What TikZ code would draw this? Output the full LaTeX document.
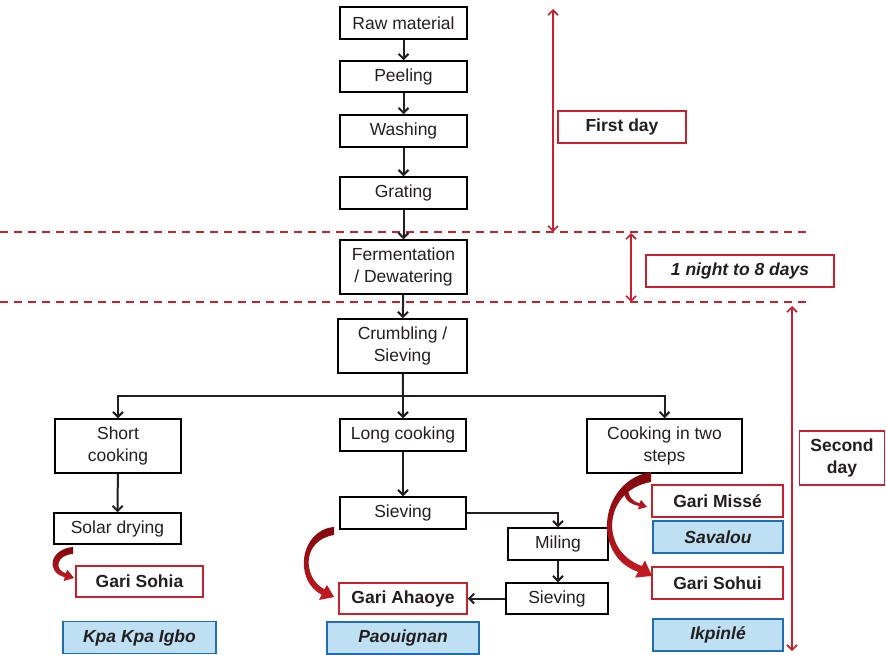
\documentclass[tikz,border=0pt]{standalone}
\usepackage{fontspec}
\setmainfont{Liberation Sans}
\usetikzlibrary{arrows.meta}

\definecolor{gariRed}{RGB}{200,32,44}
\definecolor{curveRed}{RGB}{196,26,34}
\definecolor{curveDark}{RGB}{128,8,14}
\definecolor{placeFill}{RGB}{190,224,242}
\definecolor{placeLine}{RGB}{30,110,180}
\definecolor{inkGray}{RGB}{35,31,32}
\newcommand\boxfont{\fontsize{17.5}{22}\selectfont}

\tikzset{
  stepbox/.style={draw=black, line width=1.5pt, text=inkGray, align=center,
    inner sep=0pt, minimum width=127pt, minimum height=32pt, font=\boxfont},
  garibox/.style={stepbox, draw=gariRed, font=\boxfont\bfseries},
  placebox/.style={stepbox, draw=placeLine, fill=placeFill, font=\boxfont\bfseries\itshape},
  daybox/.style={stepbox, draw=gariRed, font=\boxfont\bfseries},
  flow/.style={draw=inkGray, line width=2pt, -{Straight Barb[length=5pt,width=10pt]}},
  span/.style={draw=gariRed, line width=1.6pt,
    {Straight Barb[length=5pt,width=10pt]}-{Straight Barb[length=5pt,width=10pt]}},
  daycut/.style={draw=gariRed, line width=1.6pt, dash pattern=on 8pt off 6pt},
  garicurve/.style={top color=curveDark, bottom color=curveRed}
}

\begin{document}
\begin{tikzpicture}[x=1pt,y=-1pt]
  \useasboundingbox (0,0) rectangle (886,654);

  % main line
  \node[stepbox] (raw) at (403.5,23) {Raw material};
  \node[stepbox, minimum height=31pt] (peel) at (403.5,76.5) {Peeling};
  \node[stepbox] (wash) at (403.5,131) {Washing};
  \node[stepbox] (grate) at (403.5,193) {Grating};
  \node[stepbox, minimum height=54pt] (ferment) at (403.5,267) {Fermentation\\/ Dewatering};
  \node[stepbox, minimum width=129pt, minimum height=54pt] (crumb) at (402.5,346) {Crumbling /\\Sieving};

  % three cookings
  \node[stepbox, minimum width=126pt, minimum height=54pt] (short) at (118,446) {Short\\cooking};
  \node[stepbox, minimum width=126pt] (long) at (403,435) {Long cooking};
  \node[stepbox, minimum width=155pt, minimum height=54pt] (twostep) at (664.5,446) {Cooking in two\\steps};
  \node[stepbox, minimum height=31pt] (solar) at (117.5,528.5) {Solar drying};
  \node[stepbox, minimum width=126pt] (sieveA) at (403,513) {Sieving};
  \node[stepbox, minimum width=100pt] (miling) at (558,544) {Miling};
  \node[stepbox, minimum width=102pt, minimum height=31pt] (sieveB) at (557,598.5) {Sieving};

  % products and places
  \node[garibox, minimum height=31pt] (sohia) at (139.5,581.5) {Gari Sohia};
  \node[garibox, minimum width=128pt, minimum height=31pt] (ahaoye) at (403,598.5) {Gari Ahaoye};
  \node[garibox, minimum width=131pt] (misse) at (717.5,501) {Gari Missé};
  \node[garibox, minimum width=131pt] (sohui) at (717.5,583) {Gari Sohui};
  \node[placebox, minimum width=153pt, minimum height=32pt] (kpakpa) at (139.5,637.5) {Kpa Kpa Igbo};
  \node[placebox, minimum width=152pt] (paouignan) at (403,638) {Paouignan};
  \node[placebox, minimum width=130pt] (savalou) at (718,537) {Savalou};
  \node[placebox, minimum width=130pt] (ikpinle) at (718,635) {Ikpinlé};

  % days
  \node[daybox, minimum width=128pt] (first) at (622,127) {First day};
  \node[daybox, minimum width=188pt, font=\boxfont\bfseries\itshape] (night) at (740,271) {1 night to 8 days};
  \node[daybox, minimum width=85pt, minimum height=54pt] (second) at (842,458) {Second\\day};

  \coordinate (cutAw) at (0,232);
  \coordinate (cutAe) at (810,232);
  \coordinate (cutBw) at (0,302);
  \coordinate (cutBe) at (810,302);
  \coordinate (firstTop) at (553,9);
  \coordinate (firstBot) at (553,232);
  \coordinate (nightTop) at (631,233);
  \coordinate (nightBot) at (631,302);
  \coordinate (secondTop) at (792,306);
  \coordinate (secondBot) at (792,651);
  \coordinate (fork) at (403,396);

  \draw[daycut] (cutAw) -- (cutAe);
  \draw[daycut] (cutBw) -- (cutBe);
  \draw[span] (firstTop) -- (firstBot);
  \draw[span] (nightTop) -- (nightBot);
  \draw[span] (secondTop) -- (secondBot);

  \draw[flow] (raw) -- (peel);
  \draw[flow] (peel) -- (wash);
  \draw[flow] (wash) -- (grate);
  \draw[flow] (grate) -- (ferment);
  \draw[flow] (ferment) -- (crumb);
  \draw[line width=2pt, draw=inkGray] (crumb) -- (fork);
  \draw[flow] (fork) -| (short.north);
  \draw[flow] (fork) -- (long);
  \draw[flow] (fork) -| (twostep.north);
  \draw[flow] (short) -- (solar);
  \draw[flow] (long) -- (sieveA);
  \draw[flow] (sieveA.east) -| (miling.north);
  \draw[flow] (miling.south) -- (miling.south |- sieveB.north);
  \draw[flow] (sieveB) -- (ahaoye);

  % curved arrows to the gari
  \shade[garicurve] (73,547) .. controls (50,549) and (45,572) .. (64.8,577.2)
    -- (63.6,581) -- (74,578) -- (67.2,569.6) -- (66,573.4)
    .. controls (54,570) and (56,555) .. (73,554) -- cycle;
  \shade[garicurve] (334,527) .. controls (300,530) and (293,580) .. (321.7,594.7)
    -- (319,600) -- (334,597) -- (327,585) -- (324.3,589.3)
    .. controls (302,577) and (302,540) .. (334,535) -- cycle;
  \shade[garicurve] (651,472) .. controls (600,480) and (590,555) .. (638.3,572)
    -- (635,577.5) -- (652,576) -- (645,560.5) -- (641.8,566)
    .. controls (598,550) and (604,490) .. (651,482) -- cycle;
  \shade[garicurve] (624,488) .. controls (623,500) and (630,504) .. (639,506)
    -- (637.9,509.4) -- (647,507) -- (640.9,499.8) -- (639.8,503.2)
    .. controls (633,502) and (628,497) .. (628,488) -- cycle;
\end{tikzpicture}
\end{document}
